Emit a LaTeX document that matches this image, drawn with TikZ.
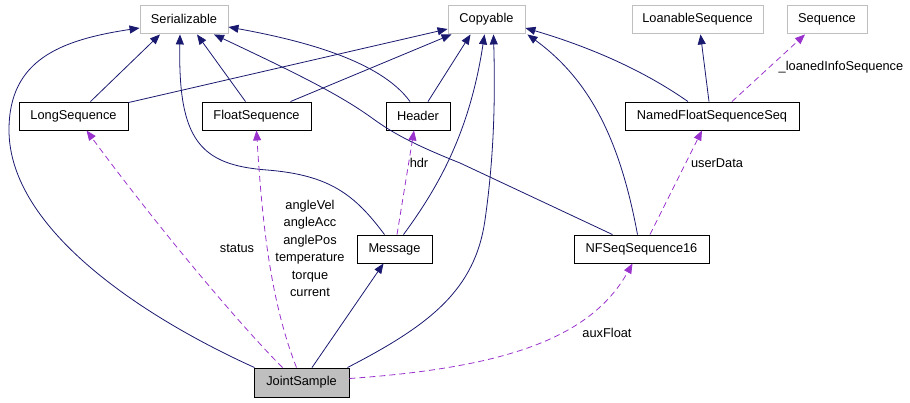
\documentclass[tikz,border=0pt]{standalone}
\usepackage{fontspec}
\setmainfont{Liberation Sans}
\usetikzlibrary{arrows.meta,calc}
\definecolor{inh}{HTML}{191970}
\definecolor{use}{HTML}{9A32CD}
\definecolor{extb}{HTML}{BFBFBF}
\begin{document}
\begin{tikzpicture}[x=1pt,y=-1pt,
  every node/.style={font=\fontsize{12.8}{15}\selectfont, inner sep=0pt},
  cls/.style={draw=black, line width=0.9pt, minimum height=28pt, fill=white},
  ext/.style={draw=extb, line width=0.9pt, minimum height=28pt, fill=white},
  self/.style={cls, fill=extb},
  inhedge/.style={draw=inh, line width=0.8pt, -{Triangle[length=10pt,width=8pt]}},
  useedge/.style={draw=use, line width=0.8pt, dash pattern=on 6pt off 4pt, -{Triangle[length=10pt,width=8pt]}},
  lbl/.style={text=black}
]
\useasboundingbox (0,0) rectangle (910,403);

% nodes
\node[ext, minimum width=88pt] (ser) at (184,19) {Serializable};
\node[ext, minimum width=77pt] (cop) at (486.5,19) {Copyable};
\node[ext, minimum width=131pt] (loan) at (697.5,19) {LoanableSequence};
\node[ext, minimum width=80pt] (seq) at (827,19) {Sequence};
\node[cls, minimum width=109pt] (lseq) at (73.5,116) {LongSequence};
\node[cls, minimum width=109pt] (fseq) at (256.5,116) {FloatSequence};
\node[cls, minimum width=64pt] (hdr) at (418,116) {Header};
\node[cls, minimum width=174pt] (nfss) at (712,116) {NamedFloatSequenceSeq};
\node[cls, minimum width=75pt] (msg) at (394.5,249) {Message};
\node[cls, minimum width=135pt] (nfs16) at (641.5,249) {NFSeqSequence16};
\node[self, minimum width=95pt, minimum height=29pt] (js) at (301.5,382.5) {JointSample};

% inheritance edges
\draw[inhedge] ($(js.north west)+(1,0)$) .. controls (145,318) and (9,230) .. (9,130)
   .. controls (9,60) and (60,40) .. ($(ser.west)+(0,9)$);
\draw[inhedge] ($(lseq.north)+(17,0)$) -- ($(ser.south)+(-24,1)$);
\draw[inhedge] ($(fseq.north)+(-11,0)$) -- ($(ser.south)+(13,1)$);
\draw[inhedge] ($(msg.north)+(-10,0)$) .. controls (355,195) and (330,175) .. (267,170)
   .. controls (200,165) and (178,140) .. ($(ser.south)+(-4,1)$);
\draw[inhedge] ($(nfs16.north)+(-29,0)$) -- (460,163) .. controls (420,147) and (395,135) .. (372,118)
   .. controls (340,95) and (300,75) .. ($(ser.south)+(30,1)$);
\draw[inhedge] ($(hdr.north)+(-8,0)$) .. controls (380,60) and (300,40) .. ($(ser.east)+(0,8)$);
\draw[inhedge] ($(lseq.north east)+(0,1)$) -- ($(cop.west)+(0,10)$);
\draw[inhedge] ($(fseq.north)+(34,0)$) -- ($(cop.south west)+(4,1)$);
\draw[inhedge] ($(hdr.north)+(10,0)$) -- ($(cop.south)+(-16,1)$);
\draw[inhedge] ($(msg.north)+(9,0)$) .. controls (440,185) and (470,130) .. ($(cop.south)+(-2,1)$);
\draw[inhedge] ($(js.north east)+(-2,0)$) .. controls (430,325) and (475,290) .. (485,220)
   .. controls (495,150) and (495,90) .. ($(cop.south)+(7,1)$);
\draw[inhedge] ($(nfs16.north)+(-4,0)$) .. controls (620,140) and (590,80) .. ($(cop.south east)+(2,1)$);
\draw[inhedge] ($(nfss.north)+(-24,0)$) .. controls (650,75) and (600,50) .. ($(cop.east)+(0,9)$);
\draw[inhedge] ($(nfss.north)+(-3,0)$) -- ($(loan.south)+(3,1)$);
\draw[inhedge] ($(js.north)+(10.5,0)$) -- ($(msg.south)+(-11,0)$);

% usage edges
\draw[useedge] ($(js.north)+(-19,0)$) .. controls (240,325) and (160,230) .. ($(lseq.south)+(13,0)$);
\node[lbl] at (237,248) {status};
\draw[useedge] ($(js.north)+(-5,0)$) .. controls (270,300) and (262,220) .. ($(fseq.south)+(0,0)$);
\node[lbl, align=center, font=\fontsize{12.8}{17.4}\selectfont] at (310,248.5)
  {angleVel\\angleAcc\\anglePos\\temperature\\torque\\current};
\draw[useedge] ($(msg.north)+(2.5,0)$) -- ($(hdr.south)+(-4,0)$);
\node[lbl] at (419,163) {hdr};
\draw[useedge] ($(nfs16.north)+(8.5,0)$) -- ($(nfss.south)+(-10,0)$);
\node[lbl] at (717,163) {userData};
\draw[useedge] ($(nfss.north)+(20,0)$) -- ($(seq.south)+(-22,1)$);
\node[lbl] at (841,67) {\_loanedInfoSequence};
\draw[useedge] ($(js.east)+(0,-4)$) .. controls (500,368) and (590,340) .. ($(nfs16.south)+(-9,0)$);
\node[lbl] at (607,333) {auxFloat};
\end{tikzpicture}
\end{document}
